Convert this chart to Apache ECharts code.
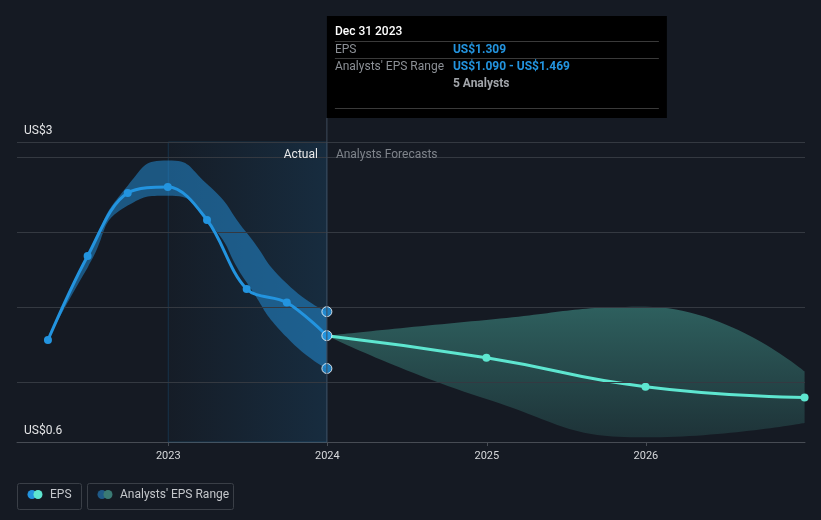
<!DOCTYPE html>
<html><head><meta charset="utf-8">
<script src="https://cdn.jsdelivr.net/npm/echarts@6/dist/echarts.min.js"></script>
<style>html,body{margin:0;padding:0;background:#151a23;}#c{width:821px;height:520px;}</style>
</head><body><div id="c"></div>
<script>
// ---- data ----
const actualDates = ['2022-03-31','2022-06-30','2022-09-30','2022-12-31','2023-03-31','2023-06-30','2023-09-30','2023-12-31'];
const actualEps   = [1.28, 1.84, 2.26, 2.30, 2.08, 1.62, 1.53, 1.309];
const actualLow   = [1.28, 1.762, 2.176, 2.242, 2.076, 1.664, 1.298, 1.090];
const actualHigh  = [1.28, 1.836, 2.309, 2.476, 2.32, 1.995, 1.656, 1.469];
const forecastDates = ['2023-12-31','2024-12-31','2025-12-31','2026-12-31'];
const forecastEps   = [1.309, 1.162, 0.969, 0.896];
const forecastLow   = [1.309, 0.887, 0.631, 0.727];
const forecastHigh  = [1.309, 1.414, 1.502, 1.071];
const gridValues = [1.0, 1.5, 2.0, 2.5, 2.6];
const xTickLabels = ['2023','2024','2025','2026'];
const yMin = 0.6, yMax = 2.6;
const yLabels = ['US$3', 'US$0.6'];
const actualRegion = ['2023-01-01', '2023-12-31'];
const xRange = ['2022-01-19', '2026-12-31'];
const tipDate = '2023-12-31';
const tipTitle = 'Dec 31 2023';
const tipRows = [['EPS', 'US$1.309'], ["Analysts' EPS Range", 'US$1.090 - US$1.469'], ['', '5 Analysts']];
const legendItems = ['EPS', "Analysts' EPS Range"];

const D = s => { const [y,m,d] = s.split('-').map(Number); return new Date(y, m-1, d).getTime(); };
const pts = (dates, vals) => dates.map((d,i) => [D(d), vals[i]]);
const diff = (dates, lo, hi) => dates.map((d,i) => [D(d), +(hi[i]-lo[i]).toFixed(4)]);

const BLUE = '#2394df', TEAL = '#5ee6d0';
const FONT = 'Roboto';
const chart = echarts.init(document.getElementById('c'));

const option = {
  backgroundColor: '#151a23',
  animation: false,
  grid: { left: 17, right: 16, top: 142, bottom: 78 },
  xAxis: {
    type: 'time',
    min: D(xRange[0]),
    max: D(xRange[1]) + 23 * 3600 * 1000,
    minInterval: 365 * 24 * 3600 * 1000,
    maxInterval: 366 * 24 * 3600 * 1000,
    splitLine: { show: false },
    axisLine: { lineStyle: { color: '#474c54', width: 1 } },
    axisTick: { show: true, length: 4, lineStyle: { color: '#474c54' } },
    axisLabel: {
      color: '#d6d8db', fontFamily: FONT, fontSize: 11, margin: 9,
      formatter: v => { const y = String(new Date(v).getFullYear()); return xTickLabels.includes(y) ? y : ''; }
    }
  },
  yAxis: {
    type: 'value', min: yMin, max: yMax,
    show: true, axisLine: { show: false }, axisTick: { show: false }, axisLabel: { show: false },
    splitLine: { show: false }
  },
  series: [
    {
      type: 'line', data: [], z: 1, silent: true,
      markArea: {
        silent: true,
        itemStyle: {
          color: new echarts.graphic.LinearGradient(0, 0, 1, 0, [
            { offset: 0, color: 'rgba(35,148,223,0.02)' },
            { offset: 1, color: 'rgba(35,148,223,0.15)' }
          ]),
          borderColor: 'rgba(35,148,223,0.2)', borderWidth: 1
        },
        data: [[{ xAxis: D(actualRegion[0]) }, { xAxis: D(actualRegion[1]) }]]
      },
      markLine: {
        silent: true, symbol: 'none', label: { show: false },
        lineStyle: { color: '#343941', width: 1, type: 'solid' },
        data: gridValues.map(v => ({ yAxis: v }))
      }
    },
    {
      type: 'line', stack: 'ab', smooth: 0.6, symbol: 'none', z: 2, silent: true,
      lineStyle: { width: 0, opacity: 0 },
      data: pts(actualDates, actualLow)
    },
    {
      type: 'line', stack: 'ab', smooth: 0.6, symbol: 'none', z: 2, silent: true,
      lineStyle: { width: 0, opacity: 0 },
      areaStyle: { color: 'rgba(35,148,223,0.5)', opacity: 1 },
      data: diff(actualDates, actualLow, actualHigh)
    },
    {
      type: 'line', stack: 'fb', smooth: 0.5, symbol: 'none', z: 2, silent: true,
      lineStyle: { width: 0, opacity: 0 },
      data: pts(forecastDates, forecastLow)
    },
    {
      type: 'line', stack: 'fb', smooth: 0.5, symbol: 'none', z: 2, silent: true,
      lineStyle: { width: 0, opacity: 0 },
      areaStyle: {
        opacity: 1,
        color: new echarts.graphic.LinearGradient(0, 0, 0, 1, [
          { offset: 0, color: 'rgba(94,230,208,0.34)' },
          { offset: 1, color: 'rgba(94,230,208,0.12)' }
        ])
      },
      data: diff(forecastDates, forecastLow, forecastHigh)
    },
    {
      name: 'EPS forecast', type: 'line', smooth: 0.5, z: 4,
      symbol: 'circle', symbolSize: 8, showSymbol: true,
      lineStyle: { color: TEAL, width: 3 }, itemStyle: { color: TEAL },
      data: pts(forecastDates, forecastEps)
    },
    {
      name: 'EPS', type: 'line', smooth: 0.35, z: 5,
      symbol: 'circle', symbolSize: 8,
      lineStyle: { color: BLUE, width: 3 }, itemStyle: { color: BLUE },
      data: pts(actualDates, actualEps)
    },
    {
      type: 'scatter', z: 6, symbol: 'circle', symbolSize: 10,
      itemStyle: { color: BLUE, borderColor: '#ffffff', borderWidth: 1 },
      data: [
        [D(tipDate), actualHigh[actualHigh.length-1]],
        [D(tipDate), actualEps[actualEps.length-1]],
        [D(tipDate), actualLow[actualLow.length-1]]
      ]
    }
  ]
};
chart.setOption(option);

const tipX = chart.convertToPixel({ gridIndex: 0 }, [D(tipDate), yMin])[0];
const gridBottom = chart.convertToPixel({ gridIndex: 0 }, [D(tipDate), yMin])[1];

const boxTop = 16, boxH = 102, boxW = 340;
const g = [];
g.push({ type: 'line', silent: true, z: 10, shape: { x1: tipX, y1: boxTop + boxH, x2: tipX, y2: gridBottom }, style: { stroke: '#3d4b5a', lineWidth: 1 } });
g.push({ type: 'rect', silent: true, z: 20, shape: { x: tipX, y: boxTop, width: boxW, height: boxH }, style: { fill: '#000000' } });
g.push({ type: 'text', silent: true, z: 21, x: tipX + 8, y: boxTop + 15.5, style: { text: tipTitle, fill: '#ffffff', font: '500 12px Roboto', verticalAlign: 'middle' } });
[41, 58, 108].forEach(y => g.push({ type: 'line', silent: true, z: 21, shape: { x1: tipX + 8, y1: y + 0.5, x2: tipX + boxW - 8, y2: y + 0.5 }, style: { stroke: '#3a3a3a', lineWidth: 1 } }));
const rowY = [49.5, 66.5, 83.5];
tipRows.forEach((r, i) => {
  if (r[0]) g.push({ type: 'text', silent: true, z: 21, x: tipX + 8, y: rowY[i], style: { text: r[0], fill: '#8c9096', font: '12px Roboto', verticalAlign: 'middle' } });
  g.push({ type: 'text', silent: true, z: 21, x: tipX + 126, y: rowY[i], style: { text: r[1], fill: i < 2 ? BLUE : '#a2a5aa', font: 'bold 12px Roboto', verticalAlign: 'middle' } });
});
g.push({ type: 'text', silent: true, z: 10, x: tipX - 9, y: 154.5, style: { text: 'Actual', fill: '#e8e9ea', font: '12px Roboto', align: 'right', verticalAlign: 'middle' } });
g.push({ type: 'text', silent: true, z: 10, x: tipX + 9, y: 154.5, style: { text: 'Analysts Forecasts', fill: '#7f848b', font: '12px Roboto', align: 'left', verticalAlign: 'middle' } });
g.push({ type: 'text', silent: true, z: 10, x: 24, y: 130.5, style: { text: yLabels[0], fill: '#e3e4e6', font: '12px Roboto', verticalAlign: 'middle' } });
g.push({ type: 'text', silent: true, z: 10, x: 24, y: 430.5, style: { text: yLabels[1], fill: '#e3e4e6', font: '12px Roboto', verticalAlign: 'middle' } });
const leg = [
  { x: 17, w: 64, c1: BLUE, c2: TEAL, text: legendItems[0] },
  { x: 87, w: 146, c1: '#1f5a88', c2: '#3a7a74', text: legendItems[1] }
];
leg.forEach(l => {
  g.push({ type: 'rect', silent: true, shape: { x: l.x + 0.5, y: 483.5, width: l.w, height: 26, r: 2 }, style: { fill: 'none', stroke: '#3a3f47', lineWidth: 1 } });
  g.push({ type: 'circle', silent: true, shape: { cx: l.x + 15, cy: 494.5, r: 4.5 }, style: { fill: l.c1 } });
  g.push({ type: 'circle', silent: true, shape: { cx: l.x + 21, cy: 494.5, r: 4.5 }, style: { fill: l.c2 } });
  g.push({ type: 'text', silent: true, x: l.x + 33, y: 495, style: { text: l.text, fill: '#c4c7cb', font: '12px Roboto', verticalAlign: 'middle' } });
});
chart.setOption({ graphic: g });
</script>
</body></html>
